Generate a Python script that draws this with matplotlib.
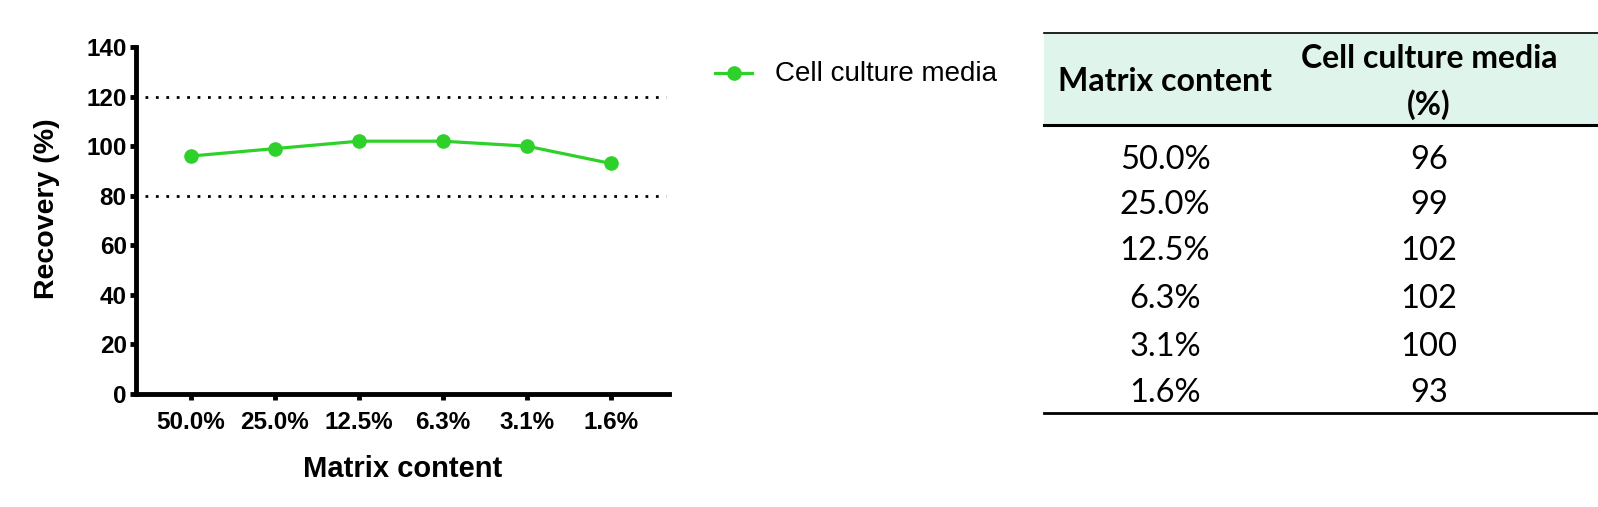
import matplotlib
matplotlib.use("Agg")
import matplotlib.pyplot as plt
from matplotlib.lines import Line2D
from matplotlib.patches import Rectangle

# ---- data ----
categories = ["50.0%", "25.0%", "12.5%", "6.3%", "3.1%", "1.6%"]
recovery = [96, 99, 102, 102, 100, 93]
series_name = "Cell culture media"
y_ticks = [0, 20, 40, 60, 80, 100, 120, 140]
limits = [80, 120]
table_headers = ["Matrix content", "Cell culture media\n(%)"]

W, H = 1598, 507
fig = plt.figure(figsize=(W / 100, H / 100), dpi=100)

def fx(px):
    return px / W

def fy(py):
    return 1 - py / H

green = "#2ED12A"
bold_font = "Liberation Sans"

# ---- chart ----
ax_l, ax_r, ax_t, ax_b = 135.7, 669, 47, 394
ax = fig.add_axes([fx(ax_l), fy(ax_b), fx(ax_r) - fx(ax_l), fy(ax_t) - fy(ax_b)])
x = list(range(len(categories)))
ax.plot(x, recovery, color=green, lw=2.3, marker="o", ms=9.5, zorder=3,
        label=series_name)
for lv in limits:
    ax.plot([-0.54, 5.65], [lv, lv], color="black", lw=2.0,
            linestyle=(0, (1, 2.75)), zorder=2)
ax.set_xlim(-0.654, 5.69)
ax.set_ylim(0, 140)
ax.set_yticks(y_ticks)
ax.set_xticks(x)
ax.set_xticklabels(categories)
for s in ["top", "right"]:
    ax.spines[s].set_visible(False)
for s in ["left", "bottom"]:
    ax.spines[s].set_linewidth(3.5)
    ax.spines[s].set_capstyle("projecting")
ax.tick_params(axis="both", width=3.5, length=4.5, labelsize=17.5)
ax.tick_params(axis="x", pad=8)
ax.tick_params(axis="y", pad=2)
for lab in ax.get_xticklabels() + ax.get_yticklabels():
    lab.set_fontfamily(bold_font)
    lab.set_fontweight("bold")
ax.set_xlabel("Matrix content", fontsize=21, fontweight="bold",
              fontfamily=bold_font, labelpad=15)
ax.set_ylabel("Recovery (%)", fontsize=20.5, fontweight="bold",
              fontfamily=bold_font)
ax.yaxis.set_label_coords(-0.142, 0.535)

# ---- legend ----
leg_y = 73
leg_line = Line2D([fx(715), fx(752)], [fy(leg_y), fy(leg_y)], transform=fig.transFigure,
                  color=green, lw=2.3)
leg_mark = Line2D([fx(733.5)], [fy(leg_y)], transform=fig.transFigure, color=green,
                  marker="o", ms=9.5, lw=0)
fig.add_artist(leg_line)
fig.add_artist(leg_mark)
fig.text(fx(775), fy(leg_y + 1), series_name, fontsize=20, fontfamily=bold_font,
         va="center", ha="left")

# ---- table ----
t_left, t_right = 1043.5, 1598
t_top, t_head, t_bot = 32.5, 125, 413
fig.add_artist(Rectangle((fx(t_left), fy(t_head)), fx(t_right) - fx(t_left),
                         fy(t_top) - fy(t_head), transform=fig.transFigure,
                         facecolor="#DFF4EA", edgecolor="none", zorder=0))
fig.add_artist(Line2D([fx(t_left), fx(t_right)], [fy(t_top), fy(t_top)],
                      transform=fig.transFigure, color="black", lw=1.2))
fig.add_artist(Line2D([fx(t_left), fx(t_right)], [fy(t_head), fy(t_head)],
                      transform=fig.transFigure, color="black", lw=2.2))
fig.add_artist(Line2D([fx(t_left), fx(t_right)], [fy(t_bot), fy(t_bot)],
                      transform=fig.transFigure, color="black", lw=2.0))

col1_x, col2_x = 1165, 1429
tfont = "Lato"
fig.text(fx(col1_x), fy(82), table_headers[0], fontsize=23, fontweight="bold",
         fontfamily=tfont, ha="center", va="center")
fig.text(fx(col2_x), fy(82), table_headers[1], fontsize=23, fontweight="bold",
         fontfamily=tfont, ha="center", va="center", linespacing=1.6)
row_y = [160, 205, 251.5, 299.5, 347, 393]
for yy, cat, val in zip(row_y, categories, recovery):
    fig.text(fx(col1_x), fy(yy), cat, fontsize=23.5, fontfamily=tfont,
             ha="center", va="center")
    fig.text(fx(col2_x), fy(yy), str(val), fontsize=23.5, fontfamily=tfont,
             ha="center", va="center")

fig.savefig("out.png", dpi=100)
